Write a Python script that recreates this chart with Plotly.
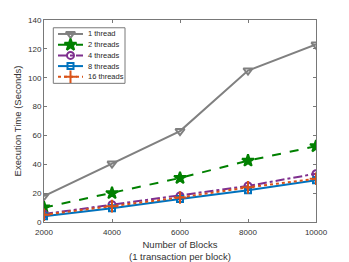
import plotly.graph_objects as go

blocks = [2000, 4000, 6000, 8000, 10000]
block_labels = ["2000", "4000", "6000", "8000", "10000"]
t1 = [18, 40.5, 63, 105, 123]
t2 = [10, 20, 30.5, 42.5, 52.5]
t4 = [5.5, 12, 18, 25, 33.5]
t8 = [4, 9.5, 16, 22, 29]
t16 = [5, 11, 17, 24, 30]

series = [
    ("1 thread", t1, "rgb(128,128,128)", "solid", "triangle-down-open", 8),
    ("2 threads", t2, "rgb(0,128,0)", "dash", "star", 9),
    ("4 threads", t4, "rgb(126,47,142)", "dashdot", "circle-open", 7),
    ("8 threads", t8, "rgb(0,114,189)", "solid", "square-open", 6),
    ("16 threads", t16, "rgb(217,83,25)", "dot", "cross-thin-open", 9),
]

fig = go.Figure()
for name, ys, col, dash, sym, sz in series:
    fig.add_trace(go.Scatter(
        x=blocks, y=ys, name=name, mode="lines+markers", showlegend=False,
        line=dict(color=col, width=2, dash=dash),
        marker=dict(symbol=sym, size=sz, color=col, line=dict(color=col, width=2)),
    ))

# custom compact legend on an overlay axis measured in pixels
L, R, T, B = 44, 316, 19.5, 222
row_y = [33.5, 44.3, 55, 65.7, 76.4]
for (name, ys, col, dash, sym, sz), ry in zip(series, row_y):
    fig.add_trace(go.Scatter(
        x=[58, 83], y=[ry, ry], xaxis="x2", yaxis="y2",
        mode="lines", showlegend=False, hoverinfo="skip",
        line=dict(color=col, width=2, dash=dash),
    ))
    fig.add_trace(go.Scatter(
        x=[70.5], y=[ry], xaxis="x2", yaxis="y2",
        mode="markers", showlegend=False, hoverinfo="skip",
        marker=dict(symbol=sym, size=sz, color=col, line=dict(color=col, width=2)),
    ))
    fig.add_annotation(x=86, y=ry, xref="x2", yref="y2", text=name,
                       showarrow=False, xanchor="left", yanchor="middle",
                       font=dict(size=7.5, color="rgb(40,40,40)"))
fig.add_shape(type="rect", xref="x2", yref="y2", x0=53.3, x1=125, y0=27.3, y1=83,
              line=dict(color="rgb(120,120,120)", width=1), fillcolor="white",
              layer="below")

axcol = "rgb(120,120,120)"
fig.update_layout(
    width=349, height=262,
    margin=dict(l=L, r=349 - R, t=T, b=262 - B, autoexpand=False),
    paper_bgcolor="white", plot_bgcolor="white",
    font=dict(family="Liberation Sans, Arial", size=8, color="rgb(50,50,50)"),
    showlegend=False,
    xaxis=dict(range=[2000, 10000], tickvals=blocks, ticktext=block_labels,
               ticks="inside", ticklen=3, ticklabelstandoff=2, automargin=False,
               showline=True, linecolor=axcol, mirror="ticks", showgrid=False,
               zeroline=False, tickcolor=axcol,
               title=dict(text="Number of Blocks<br>(1 transaction per block)",
                          font=dict(size=9.5), standoff=8)),
    yaxis=dict(range=[0, 140], tickvals=[0, 20, 40, 60, 80, 100, 120, 140],
               ticks="inside", ticklen=3, showline=True, linecolor=axcol,
               mirror="ticks", showgrid=False, zeroline=False, tickcolor=axcol,
               automargin=False,
               title=dict(text="Execution Time (Seconds)", font=dict(size=9.5), standoff=4)),
    xaxis2=dict(range=[L, R], overlaying="x", visible=False, fixedrange=True),
    yaxis2=dict(range=[B, T], overlaying="y", visible=False, fixedrange=True),
)
fig.write_html("out.html", config={"displayModeBar": False},
               post_script="document.body.style.margin='0';document.body.style.overflow='hidden';")
